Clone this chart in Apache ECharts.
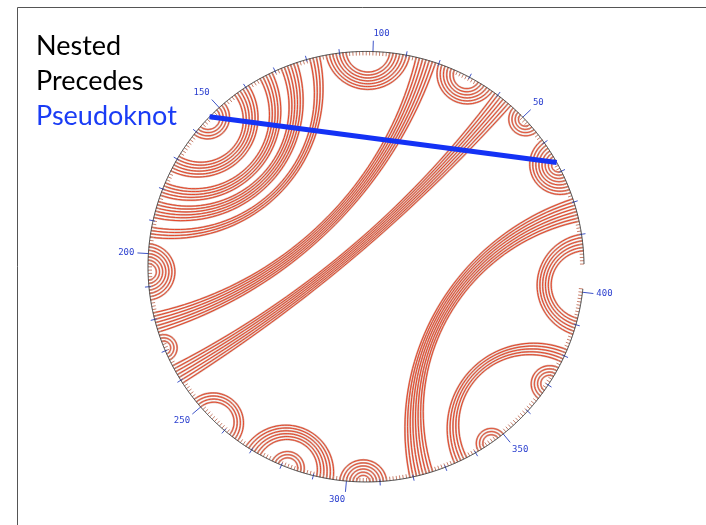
<!DOCTYPE html>
<html>
<head>
<meta charset="utf-8">
<script src="https://cdn.jsdelivr.net/npm/echarts@6/dist/echarts.min.js"></script>
<style>
  html, body { margin: 0; padding: 0; background: #fff; }
  #chart { width: 706px; height: 525px; }
</style>
</head>
<body>
<div id="chart"></div>
<script>
var seqLength = 401;

// helices: [first base, its partner, number of stacked pairs]
var helices = [
  [5, 392, 6], [14, 326, 8], [23, 41, 8], [44, 54, 4], [55, 241, 7], [62, 80, 6],
  [81, 224, 7], [89, 114, 7], [116, 195, 4], [123, 189, 6], [131, 182, 5], [139, 174, 6],
  [148, 161, 4], [197, 214, 7], [225, 233, 3], [247, 265, 4], [268, 296, 6], [277, 287, 3],
  [298, 312, 6], [333, 382, 5], [341, 350, 3], [365, 376, 4]
];
var pseudoknots = [[33, 154]];
var labelBases = [50, 100, 150, 200, 250, 300, 350, 400];
var titleLines = ['Nested', 'Precedes', 'Pseudoknot'];
var titleColors = ['#000000', '#000000', '#1a3cf5'];

var pairs = [];
helices.forEach(function (h) {
  for (var k = 0; k < h[2]; k++) {
    pairs.push([h[0] + k, h[1] - k]);
  }
});

var bases = [];
for (var b = 1; b <= seqLength; b++) bases.push([b, 0]);

var firstAngle = 0.71, stepAngle = 0.8834;   // degrees
var unit = 218;                              // px per data unit

function baseAngle(b) {
  return (firstAngle + (b - 1) * stepAngle) * Math.PI / 180;
}
function onCircle(b, r) {
  var a = baseAngle(b);
  return [r * Math.cos(a), r * Math.sin(a)];
}
function wrap(a) {
  while (a > Math.PI) a -= 2 * Math.PI;
  while (a <= -Math.PI) a += 2 * Math.PI;
  return a;
}

// arc orthogonal to the unit circle joining two bases
function arcPoints(i, j) {
  var a1 = baseAngle(i), a2 = baseAngle(j);
  var d = wrap(a2 - a1);
  var half = Math.abs(d) / 2;
  var p1 = [Math.cos(a1), Math.sin(a1)], p2 = [Math.cos(a2), Math.sin(a2)];
  if (Math.cos(half) < 1e-3) return [p1, p2];
  var m = a1 + d / 2;
  var dist = 1 / Math.cos(half), rad = Math.tan(half);
  var c = [dist * Math.cos(m), dist * Math.sin(m)];
  var f1 = Math.atan2(p1[1] - c[1], p1[0] - c[0]);
  var f2 = Math.atan2(p2[1] - c[1], p2[0] - c[0]);
  var df = wrap(f2 - f1);
  var pts = [];
  var n = 48;
  for (var k = 0; k <= n; k++) {
    var f = f1 + df * k / n;
    pts.push([c[0] + rad * Math.cos(f), c[1] + rad * Math.sin(f)]);
  }
  return pts;
}

function renderArc(params, api) {
  var pts = arcPoints(api.value(0), api.value(1)).map(function (p) { return api.coord(p); });
  return {
    type: 'group',
    children: [
      { type: 'polyline', shape: { points: pts }, style: { stroke: '#d6b0a6', lineWidth: 2, fill: 'none' } },
      { type: 'polyline', shape: { points: pts }, style: { stroke: '#e6391a', lineWidth: 0.9, fill: 'none' } }
    ]
  };
}

function lineShape(api, b, r1, r2) {
  var p1 = api.coord(onCircle(b, r1)), p2 = api.coord(onCircle(b, r2));
  return { x1: p1[0], y1: p1[1], x2: p2[0], y2: p2[1] };
}

function renderTick(params, api) {
  var b = api.value(0);
  var children = [{
    type: 'line',
    shape: lineShape(api, b, 1 - 4 / unit, 1),
    style: { stroke: '#c8806c', lineWidth: 1 }
  }];
  if (b % 50 === 0) {
    children.push({
      type: 'line',
      shape: lineShape(api, b, 1, 1 + 11 / unit),
      style: { stroke: '#3f55c8', lineWidth: 1 }
    });
  } else if (b % 10 === 0) {
    children.push({
      type: 'line',
      shape: lineShape(api, b, 1 - 2 / unit, 1 + 4 / unit),
      style: { stroke: '#3f55c8', lineWidth: 1 }
    });
  }
  if (labelBases.indexOf(b) >= 0) {
    var a = baseAngle(b);
    var p = api.coord(onCircle(b, 1 + 14 / unit));
    var s = Math.sin(a);
    children.push({
      type: 'text',
      x: p[0], y: p[1],
      style: {
        text: String(b),
        fill: '#2b3fcf',
        font: '9px "DejaVu Sans Mono"',
        align: Math.cos(a) >= 0 ? 'left' : 'right',
        verticalAlign: s > 0.3 ? 'bottom' : (s < -0.3 ? 'top' : 'middle')
      }
    });
  }
  return { type: 'group', children: children };
}

function renderBackbone(params, api) {
  var pts = [];
  for (var t = 1; t <= seqLength; t += 0.25) pts.push(api.coord(onCircle(t, 1)));
  return { type: 'polyline', shape: { points: pts }, style: { stroke: '#3a3a3a', lineWidth: 1, fill: 'none' } };
}

function renderKnot(params, api) {
  var p1 = api.coord(onCircle(api.value(0), 1)), p2 = api.coord(onCircle(api.value(1), 1));
  return {
    type: 'line',
    shape: { x1: p1[0], y1: p1[1], x2: p2[0], y2: p2[1] },
    style: { stroke: '#1432f5', lineWidth: 5 }
  };
}

var option = {
  animation: false,
  backgroundColor: '#ffffff',
  title: titleLines.map(function (t, k) {
    return {
      text: t,
      left: 36,
      top: 33 + k * 35,
      padding: 0,
      textStyle: { fontFamily: 'Lato', fontWeight: 'normal', fontSize: 27, color: titleColors[k] }
    };
  }),
  graphic: [{
    type: 'rect',
    shape: { x: 17.5, y: 7.5, width: 800, height: 600 },
    style: { fill: 'none', stroke: '#555', lineWidth: 1 },
    z: -1
  }],
  grid: { left: 39, top: 8.4, width: 654, height: 523.2 },
  xAxis: { type: 'value', min: -1.5, max: 1.5, show: false },
  yAxis: { type: 'value', min: -1.2, max: 1.2, show: false },
  series: [
    { type: 'custom', name: 'pairs', renderItem: renderArc, data: pairs, z: 2 },
    { type: 'custom', name: 'ticks', renderItem: renderTick, data: bases, z: 3 },
    { type: 'custom', name: 'backbone', renderItem: renderBackbone, data: [[0, 0]], z: 4 },
    { type: 'custom', name: 'pseudoknot', renderItem: renderKnot, data: pseudoknots, z: 5 }
  ]
};

var myChart = echarts.init(document.getElementById('chart'));
myChart.setOption(option);
</script>
</body>
</html>
